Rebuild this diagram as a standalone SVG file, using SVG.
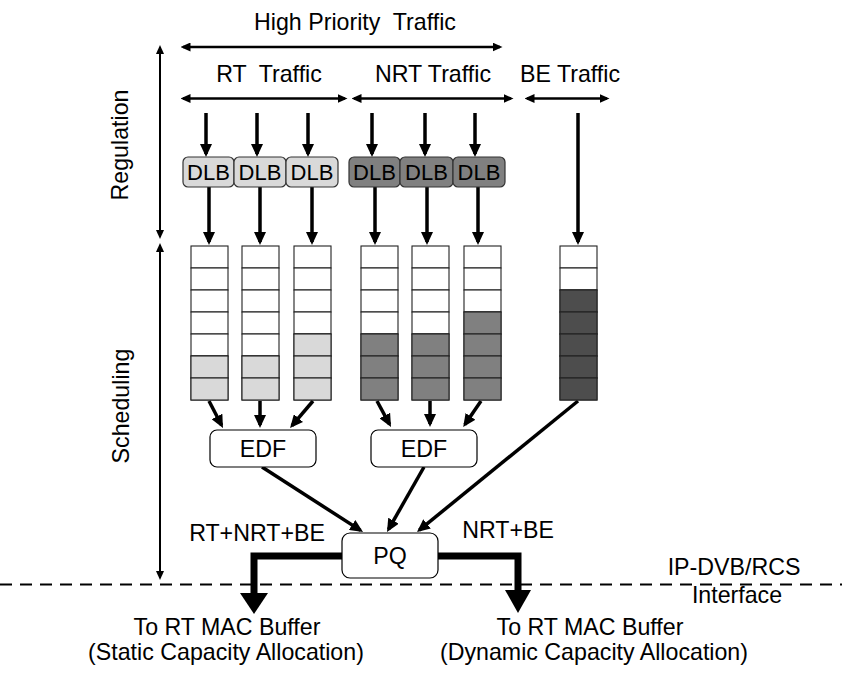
<svg xmlns="http://www.w3.org/2000/svg" width="842" height="673" viewBox="0 0 842 673">
  <style>
    text { font-family: "Liberation Sans", Arial, sans-serif; font-size: 23.2px; fill: #000; text-anchor: middle; }
    .dlb { font-size: 22px; }
    .box { fill: #fff; stroke: #000; stroke-width: 1.2; }
    .dlbL { fill: #d9d9d9; stroke: #333; stroke-width: 1.2; }
    .dlbD { fill: #808080; stroke: #333; stroke-width: 1.2; }
    .cell { fill: #fff; stroke: #222; stroke-width: 1.1; }
    .lt { fill: #d9d9d9; }
    .md { fill: #808080; }
    .dk { fill: #4d4d4d; }
    .flow { fill: none; stroke: #000; stroke-width: 3.5; marker-end: url(#ah); }
    .span { fill: none; stroke: #000; stroke-width: 2.5; marker-start: url(#dh); marker-end: url(#dh); }
    .phase { fill: none; stroke: #000; stroke-width: 2; marker-start: url(#vh); marker-end: url(#vh); }
    .out { fill: none; stroke: #000; stroke-width: 7; stroke-linejoin: miter; }
  </style>
  <defs>
    <marker id="ah" markerUnits="userSpaceOnUse" markerWidth="13" markerHeight="12" refX="10" refY="6" orient="auto">
      <path d="M0,0 L13,6 L0,12 z" fill="#000"/>
    </marker>
    <marker id="dh" markerUnits="userSpaceOnUse" markerWidth="10" markerHeight="9" refX="7.5" refY="4.5" orient="auto-start-reverse">
      <path d="M0,0 L10,4.5 L0,9 z" fill="#000"/>
    </marker>
    <marker id="vh" markerUnits="userSpaceOnUse" markerWidth="9" markerHeight="8" refX="7" refY="4" orient="auto-start-reverse">
      <path d="M0,0 L9,4 L0,8 z" fill="#000"/>
    </marker>
    <g id="queue">
      <rect class="cell" x="0" y="0" width="37" height="22"/>
      <rect class="cell" x="0" y="22" width="37" height="22"/>
      <rect class="cell" x="0" y="44" width="37" height="22"/>
      <rect class="cell" x="0" y="66" width="37" height="22"/>
      <rect class="cell" x="0" y="88" width="37" height="22"/>
      <rect class="cell" x="0" y="110" width="37" height="22"/>
      <rect class="cell" x="0" y="132" width="37" height="22"/>
    </g>
  </defs>

  <rect width="842" height="673" fill="#fff"/>

  <!-- traffic class spans and phase labels -->
  <g id="labels">
    <text x="355" y="30" xml:space="preserve">High Priority  Traffic</text>
    <text x="269" y="82" xml:space="preserve">RT  Traffic</text>
    <text x="433" y="82">NRT Traffic</text>
    <text x="570" y="82">BE Traffic</text>
    <text transform="translate(128,145) rotate(-90)">Regulation</text>
    <text transform="translate(129,406) rotate(-90)">Scheduling</text>
    <text x="257" y="541">RT+NRT+BE</text>
    <text x="508" y="538">NRT+BE</text>
    <text x="734" y="575">IP-DVB/RCS</text>
    <text x="737" y="603">Interface</text>
    <text x="227" y="635">To RT MAC Buffer</text>
    <text x="226" y="660">(Static Capacity Allocation)</text>
    <text x="590" y="635">To RT MAC Buffer</text>
    <text x="594" y="660">(Dynamic Capacity Allocation)</text>
  </g>

  <g id="spans">
    <line class="span" x1="183" y1="47" x2="500" y2="47"/>
    <line class="span" x1="183" y1="98.5" x2="345" y2="98.5"/>
    <line class="span" x1="354" y1="98.5" x2="511" y2="98.5"/>
    <line class="span" x1="527" y1="98.5" x2="607" y2="98.5"/>
    <line class="phase" x1="160" y1="47" x2="160" y2="237"/>
    <line class="phase" x1="160" y1="245" x2="160" y2="578"/>
  </g>

  <!-- interface boundary -->
  <line x1="0" y1="584.5" x2="842" y2="584.5" stroke="#000" stroke-width="2" stroke-dasharray="12,8"/>

  <!-- connectors -->
  <g id="connectors">
    <!-- traffic into regulators -->
    <line class="flow" x1="206" y1="113" x2="206" y2="154"/>
    <line class="flow" x1="257" y1="113" x2="257" y2="154"/>
    <line class="flow" x1="308" y1="113" x2="308" y2="154"/>
    <line class="flow" x1="372" y1="113" x2="372" y2="154"/>
    <line class="flow" x1="425" y1="113" x2="425" y2="154"/>
    <line class="flow" x1="475" y1="113" x2="475" y2="154"/>
    <!-- regulators into queues -->
    <line class="flow" x1="209" y1="187" x2="209" y2="242"/>
    <line class="flow" x1="260" y1="187" x2="260" y2="242"/>
    <line class="flow" x1="312" y1="187" x2="312" y2="242"/>
    <line class="flow" x1="375" y1="187" x2="375" y2="242"/>
    <line class="flow" x1="427" y1="187" x2="427" y2="242"/>
    <line class="flow" x1="478" y1="187" x2="478" y2="242"/>
    <line class="flow" x1="578" y1="113" x2="578" y2="242"/>
    <!-- queues into EDF schedulers -->
    <line class="flow" x1="209" y1="401" x2="221.6" y2="425.3"/>
    <line class="flow" x1="260" y1="401" x2="260" y2="425"/>
    <line class="flow" x1="313" y1="401" x2="292" y2="425.7"/>
    <line class="flow" x1="377" y1="401" x2="389.6" y2="424.3"/>
    <line class="flow" x1="430" y1="401" x2="430" y2="424"/>
    <line class="flow" x1="481" y1="401" x2="464.9" y2="424.6"/>
    <!-- into the priority queue -->
    <line class="flow" x1="262" y1="467" x2="360.5" y2="530.4"/>
    <line class="flow" x1="424" y1="467" x2="388.5" y2="529.4"/>
    <line class="flow" x1="578" y1="401" x2="419.3" y2="530.1"/>
    <!-- priority queue outputs -->
    <path class="out" d="M342,556 H254 V595"/>
    <polygon points="240,593 268,593 254,614" fill="#000"/>
    <path class="out" d="M438,556 H518 V592"/>
    <polygon points="505,590 531,590 518,613" fill="#000"/>
  </g>

  <!-- regulators -->
  <g id="dlb-rt1"><rect class="dlbL" x="183" y="157" width="51" height="30" rx="5"/><text class="dlb" x="208.5" y="180">DLB</text></g>
  <g id="dlb-rt2"><rect class="dlbL" x="234" y="157" width="52" height="30" rx="5"/><text class="dlb" x="260" y="180">DLB</text></g>
  <g id="dlb-rt3"><rect class="dlbL" x="286" y="157" width="52" height="30" rx="5"/><text class="dlb" x="312" y="180">DLB</text></g>
  <g id="dlb-nrt1"><rect class="dlbD" x="349" y="157" width="51" height="30" rx="5"/><text class="dlb" x="374.5" y="180">DLB</text></g>
  <g id="dlb-nrt2"><rect class="dlbD" x="400" y="157" width="53" height="30" rx="5"/><text class="dlb" x="426.5" y="180">DLB</text></g>
  <g id="dlb-nrt3"><rect class="dlbD" x="453" y="157" width="52" height="30" rx="5"/><text class="dlb" x="479" y="180">DLB</text></g>

  <!-- queues -->
  <g id="q-rt1" transform="translate(191,246)">
    <use href="#queue"/>
    <rect class="cell lt" x="0" y="110" width="37" height="22"/><rect class="cell lt" x="0" y="132" width="37" height="22"/>
  </g>
  <g id="q-rt2" transform="translate(242,246)">
    <use href="#queue"/>
    <rect class="cell lt" x="0" y="110" width="37" height="22"/><rect class="cell lt" x="0" y="132" width="37" height="22"/>
  </g>
  <g id="q-rt3" transform="translate(294,246)">
    <use href="#queue"/>
    <rect class="cell lt" x="0" y="88" width="37" height="22"/><rect class="cell lt" x="0" y="110" width="37" height="22"/><rect class="cell lt" x="0" y="132" width="37" height="22"/>
  </g>
  <g id="q-nrt1" transform="translate(361,246)">
    <use href="#queue"/>
    <rect class="cell md" x="0" y="88" width="37" height="22"/><rect class="cell md" x="0" y="110" width="37" height="22"/><rect class="cell md" x="0" y="132" width="37" height="22"/>
  </g>
  <g id="q-nrt2" transform="translate(412,246)">
    <use href="#queue"/>
    <rect class="cell md" x="0" y="88" width="37" height="22"/><rect class="cell md" x="0" y="110" width="37" height="22"/><rect class="cell md" x="0" y="132" width="37" height="22"/>
  </g>
  <g id="q-nrt3" transform="translate(464,246)">
    <use href="#queue"/>
    <rect class="cell md" x="0" y="66" width="37" height="22"/><rect class="cell md" x="0" y="88" width="37" height="22"/><rect class="cell md" x="0" y="110" width="37" height="22"/><rect class="cell md" x="0" y="132" width="37" height="22"/>
  </g>
  <g id="q-be" transform="translate(560,246)">
    <use href="#queue"/>
    <rect class="cell dk" x="0" y="44" width="37" height="22"/><rect class="cell dk" x="0" y="66" width="37" height="22"/><rect class="cell dk" x="0" y="88" width="37" height="22"/><rect class="cell dk" x="0" y="110" width="37" height="22"/><rect class="cell dk" x="0" y="132" width="37" height="22"/>
  </g>

  <!-- schedulers -->
  <g id="edf-rt"><rect class="box" x="210" y="430" width="106" height="37" rx="7"/><text x="263" y="457">EDF</text></g>
  <g id="edf-nrt"><rect class="box" x="371" y="430" width="106" height="37" rx="7"/><text x="424" y="457">EDF</text></g>
  <g id="pq"><rect class="box" x="342" y="533" width="96" height="45" rx="8"/><text x="390" y="564">PQ</text></g>
</svg>
